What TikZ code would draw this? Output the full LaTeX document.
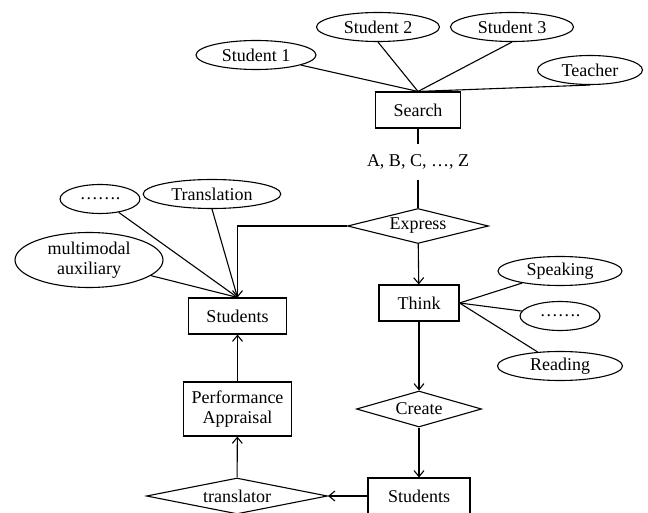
\documentclass[tikz,border=0pt]{standalone}
\usepackage{fontspec}
\setmainfont{Liberation Serif}
\usepackage{tikz}
\usetikzlibrary{shapes,shapes.geometric,arrows.meta}
\tikzstyle{attr}=[ellipse, draw, inner xsep=8pt, inner ysep=1pt, minimum height=29pt]
\tikzstyle{entity}=[rectangle, draw, minimum width=80pt, minimum height=36pt, inner xsep=18pt]
\tikzstyle{rel}=[diamond, draw, aspect=4, inner sep=1pt]

\begin{document}
\begin{tikzpicture}[x=1pt,y=-1pt,line width=1.1pt,>={Straight Barb[length=6pt,width=10pt]},
  every node/.style={font=\fontsize{18}{19.5}\selectfont}]
\useasboundingbox (0,0) rectangle (648,513);
\clip (0,0) rectangle (648,513);
% top part
\node[entity] (search) at (418,110) {Search};
\node[attr, minimum width=120pt] (s1) at (256,55) {Student 1};
\node[attr, minimum width=123pt] (s2) at (378,27) {Student 2};
\node[attr, minimum width=123pt] (s3) at (512,27) {Student 3};
\node[attr, minimum width=105pt] (teacher) at (590,70) {Teacher};
\draw (s1) -- (search.north);
\foreach \a in {s2,s3,teacher} {
	\draw (\a.south) -- (search.north);
}
\node[inner ysep=10pt] (abc) at (418,162) {A, B, C, …, Z};
\node[rel, minimum width=141pt, minimum height=35pt] (express) at (418,226) {Express};
\draw (search) -- (abc);
\draw (abc) -- (express);
% right branch
\node[entity] (think) at (419,303) {Think};
\node[attr, minimum width=124pt] (speak) at (560,271) {Speaking};
\node[attr, minimum width=74pt] (dots2) at (560,316) {…….};
\node[attr, minimum width=125pt] (read) at (560,366) {Reading};
\foreach \a in {speak,dots2,read} {
	\draw (think.east) -- (\a);
}
\node[rel, minimum width=125pt, minimum height=36pt] (create) at (419,409) {Create};
\node[entity, minimum width=102pt] (stuB) at (419,496) {Students};
\draw[->] (express) -- (think);
\draw[->] (think) -- (create);
\draw[->] (create) -- (stuB);
% left branch
\node[entity] (stuL) at (237.5,316) {Students};
\node[attr, minimum width=131pt] (trans) at (212,194) {Translation};
\node[attr, minimum width=73pt] (dots1) at (100,199) {…….};
\node[attr, align=center, minimum width=148pt, minimum height=55pt] (multi) at (89,260) {multimodal\\auxiliary};
\draw (dots1) -- (stuL.north);
\draw (trans.south) -- (stuL.north);
\draw (multi) -- (stuL.north);
\draw[->] (express.west) -| (stuL.north);
\node[entity, align=center, inner xsep=8pt, inner ysep=9pt] (pa) at (237.5,409) {Performance\\Appraisal};
\node[rel, aspect=5, minimum width=181pt, minimum height=36pt] (translator) at (237,496) {translator};
\draw[->] (stuB) -- (translator);
\draw[->] (translator) -- (pa);
\draw[->] (pa) -- (stuL);
\end{tikzpicture}
\end{document}
